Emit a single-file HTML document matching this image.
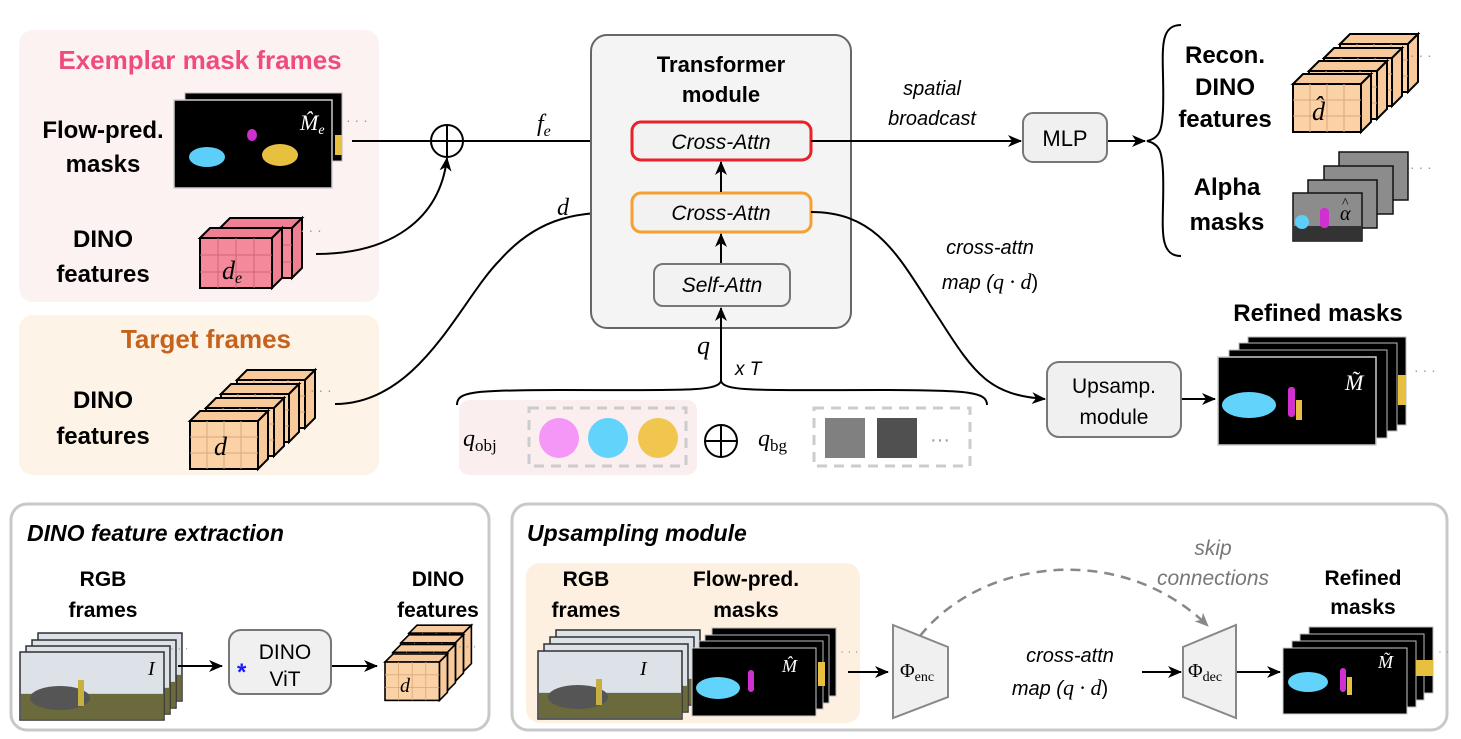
<!DOCTYPE html>
<html><head><meta charset="utf-8"><style>
html,body{margin:0;padding:0;background:#fff;}
svg{display:block;font-family:"Liberation Sans",sans-serif;}
.b{font-weight:bold;}
.m{font-family:"Liberation Serif",serif;font-style:italic;}
</style></head><body>
<svg width="1461" height="739" viewBox="0 0 1461 739" xmlns="http://www.w3.org/2000/svg">
<defs>
<marker id="ar" markerWidth="14" markerHeight="14" refX="13" refY="6" orient="auto" markerUnits="userSpaceOnUse"><path d="M0,0 L14,6 L0,12 L4,6 z" fill="#000"/></marker>
<marker id="ag" markerWidth="14" markerHeight="14" refX="13" refY="6" orient="auto" markerUnits="userSpaceOnUse"><path d="M0,0 L14,6 L0,12 L4,6 z" fill="#888"/></marker>
<g id="cubeO">
  <polygon points="0,0 10,-10 78,-10 68,0" fill="#f8c99a" stroke="#000" stroke-width="2"/>
  <polygon points="68,0 78,-10 78,38 68,48" fill="#f8c99a" stroke="#000" stroke-width="2"/>
  <rect x="0" y="0" width="68" height="48" fill="#fbd2a6" stroke="#000" stroke-width="2"/>
  <path d="M17,0V48M34,0V48M51,0V48M0,16H68M0,32H68" stroke="#d9a77a" stroke-width="1"/>
</g>
<g id="cubeP">
  <polygon points="0,0 10,-10 82,-10 72,0" fill="#f07f94" stroke="#000" stroke-width="2"/>
  <polygon points="72,0 82,-10 82,40 72,50" fill="#f07f94" stroke="#000" stroke-width="2"/>
  <rect x="0" y="0" width="72" height="50" fill="#f3899b" stroke="#000" stroke-width="2"/>
  <path d="M18,0V50M36,0V50M54,0V50M0,17H72M0,34H72" stroke="#c9687a" stroke-width="1"/>
</g>
<g id="photo">
  <rect x="0" y="0" width="144" height="68" fill="#c9cfd6" stroke="#333" stroke-width="1.5"/>
  <rect x="1" y="1" width="142" height="40" fill="#dde2e8"/>
  <rect x="1" y="42" width="142" height="25" fill="#6b6a3c"/>
  <ellipse cx="40" cy="46" rx="30" ry="12" fill="#555"/>
  <rect x="58" y="28" width="6" height="26" fill="#c8b040"/>
</g>
</defs>

<!-- Exemplar panel -->
<rect x="19" y="30" width="360" height="272" rx="14" fill="#fdf2f2"/>
<text x="200" y="69" text-anchor="middle" font-size="26" fill="#ef4b7c" class="b">Exemplar mask frames</text>
<text x="103" y="138" text-anchor="middle" font-size="24" class="b">Flow-pred.</text>
<text x="103" y="172" text-anchor="middle" font-size="24" class="b">masks</text>
<rect x="185" y="93" width="157" height="68" fill="#000" stroke="#bbb" stroke-width="1"/>
<rect x="335" y="135" width="7" height="20" fill="#e8c040"/>
<rect x="174" y="100" width="158" height="88" fill="#000" stroke="#ccc" stroke-width="1.5"/>
<ellipse cx="207" cy="157" rx="18" ry="10" fill="#5ccef8"/>
<ellipse cx="280" cy="155" rx="18" ry="11" fill="#e8c040"/>
<ellipse cx="252" cy="135" rx="5" ry="6" fill="#d030d0"/>
<text x="300" y="130" font-size="22" fill="#fff" class="m">M̂<tspan font-size="14" dy="4">e</tspan></text>
<text x="346" y="125" font-size="14" fill="#999">· · ·</text>
<text x="103" y="247" text-anchor="middle" font-size="24" class="b">DINO</text>
<text x="103" y="282" text-anchor="middle" font-size="24" class="b">features</text>
<use href="#cubeP" x="220" y="228"/>
<use href="#cubeP" x="200" y="238"/>
<text x="222" y="279" font-size="26" class="m">d<tspan font-size="16" dy="4">e</tspan></text>
<text x="300" y="235" font-size="14" fill="#999">· · ·</text>

<!-- Target panel -->
<rect x="19" y="315" width="360" height="160" rx="14" fill="#fdf3e7"/>
<text x="206" y="348" text-anchor="middle" font-size="26" fill="#c5621b" class="b">Target frames</text>
<text x="103" y="408" text-anchor="middle" font-size="24" class="b">DINO</text>
<text x="103" y="444" text-anchor="middle" font-size="24" class="b">features</text>
<use href="#cubeO" x="237" y="380"/>
<use href="#cubeO" x="221" y="394"/>
<use href="#cubeO" x="206" y="408"/>
<use href="#cubeO" x="190" y="421"/>
<text x="214" y="455" font-size="26" class="m">d</text>
<text x="310" y="395" font-size="14" fill="#999">· · ·</text>

<!-- plus & connections -->
<circle cx="447" cy="141" r="16" fill="none" stroke="#000" stroke-width="2"/>
<path d="M431,141H463M447,125V157" stroke="#000" stroke-width="2"/>
<path d="M352,141H431" stroke="#000" stroke-width="2"/>
<path d="M463,141H630" stroke="#000" stroke-width="2" marker-end="url(#ar)"/>
<path d="M316,254 C390,254 440,220 447,158" fill="none" stroke="#000" stroke-width="2" marker-end="url(#ar)"/>
<path d="M335,404 C420,404 460,300 500,260 C540,215 580,212 630,212" fill="none" stroke="#000" stroke-width="2" marker-end="url(#ar)"/>
<text x="537" y="131" font-size="24" class="m">f<tspan font-size="16" dy="5">e</tspan></text>
<text x="557" y="215" font-size="24" class="m">d</text>

<!-- Transformer -->
<rect x="591" y="35" width="260" height="293" rx="16" fill="#f4f4f4" stroke="#666" stroke-width="2"/>
<text x="721" y="72" text-anchor="middle" font-size="22" class="b">Transformer</text>
<text x="721" y="102" text-anchor="middle" font-size="22" class="b">module</text>
<rect x="632" y="122" width="179" height="38" rx="9" fill="#f2f2f2" stroke="#e8222a" stroke-width="3"/>
<text x="721" y="149" text-anchor="middle" font-size="21" font-style="italic">Cross-Attn</text>
<rect x="632" y="193" width="179" height="39" rx="9" fill="#f2f2f2" stroke="#f5a030" stroke-width="3"/>
<text x="721" y="220" text-anchor="middle" font-size="21" font-style="italic">Cross-Attn</text>
<rect x="654" y="264" width="136" height="42" rx="9" fill="#f2f2f2" stroke="#777" stroke-width="2"/>
<text x="722" y="292" text-anchor="middle" font-size="21" font-style="italic">Self-Attn</text>
<path d="M721,192V162" stroke="#000" stroke-width="2" marker-end="url(#ar)"/>
<path d="M721,263V234" stroke="#000" stroke-width="2" marker-end="url(#ar)"/>
<path d="M721,381V308" stroke="#000" stroke-width="2" marker-end="url(#ar)"/>
<text x="697" y="354" font-size="26" class="m">q</text>
<text x="735" y="375" font-size="19" font-style="italic">x T</text>
<path d="M457,405 C457,392 470,390 560,390 C680,390 718,392 721,381 C724,392 760,390 880,390 C970,390 987,392 987,405" fill="none" stroke="#000" stroke-width="2"/>

<!-- q boxes -->
<rect x="459" y="400" width="238" height="75" rx="10" fill="#fbeeee"/>
<text x="463" y="446" font-size="24" class="m">q<tspan font-size="17" font-style="normal" dy="5">obj</tspan></text>
<rect x="529" y="408" width="157" height="58" fill="none" stroke="#ccc" stroke-width="3" stroke-dasharray="10,7"/>
<circle cx="559" cy="438" r="20" fill="#f497f7"/>
<circle cx="608" cy="438" r="20" fill="#62d3fb"/>
<circle cx="658" cy="438" r="20" fill="#f0c64e"/>
<circle cx="721" cy="441" r="16" fill="none" stroke="#000" stroke-width="2"/>
<path d="M705,441H737M721,425V457" stroke="#000" stroke-width="2"/>
<text x="758" y="446" font-size="24" class="m">q<tspan font-size="17" font-style="normal" dy="5">bg</tspan></text>
<rect x="814" y="408" width="156" height="58" fill="none" stroke="#ccc" stroke-width="3" stroke-dasharray="10,7"/>
<rect x="825" y="418" width="40" height="40" fill="#808080"/>
<rect x="877" y="418" width="40" height="40" fill="#505050"/>
<text x="930" y="446" font-size="20" fill="#999">···</text>

<!-- right outputs -->
<path d="M811,141H1021" stroke="#000" stroke-width="2" marker-end="url(#ar)"/>
<text x="932" y="95" text-anchor="middle" font-size="20" font-style="italic">spatial</text>
<text x="932" y="125" text-anchor="middle" font-size="20" font-style="italic">broadcast</text>
<rect x="1023" y="113" width="84" height="49" rx="10" fill="#f0f0f0" stroke="#777" stroke-width="2"/>
<text x="1065" y="146" text-anchor="middle" font-size="22">MLP</text>
<path d="M1108,141H1145" stroke="#000" stroke-width="2" marker-end="url(#ar)"/>
<path d="M1181,25 C1155,25 1165,60 1163,110 C1162,130 1160,138 1147,141 C1160,144 1162,152 1163,172 C1165,220 1155,256 1181,256" fill="none" stroke="#000" stroke-width="2"/>
<text x="1225" y="63" text-anchor="middle" font-size="24" class="b">Recon.</text>
<text x="1225" y="95" text-anchor="middle" font-size="24" class="b">DINO</text>
<text x="1225" y="127" text-anchor="middle" font-size="24" class="b">features</text>
<use href="#cubeO" x="1340" y="44"/>
<use href="#cubeO" x="1324" y="58"/>
<use href="#cubeO" x="1309" y="71"/>
<use href="#cubeO" x="1293" y="84"/>
<text x="1312" y="120" font-size="26" class="m">d̂</text>
<text x="1410" y="60" font-size="14" fill="#999">· · ·</text>
<text x="1227" y="195" text-anchor="middle" font-size="24" class="b">Alpha</text>
<text x="1227" y="230" text-anchor="middle" font-size="24" class="b">masks</text>
<g stroke="#111" stroke-width="1.5">
<rect x="1339" y="152" width="69" height="48" fill="#8c8c8c"/>
<rect x="1324" y="166" width="69" height="48" fill="#8c8c8c"/>
<rect x="1308" y="180" width="69" height="48" fill="#8c8c8c"/>
<rect x="1293" y="193" width="69" height="48" fill="#8c8c8c"/>
</g>
<rect x="1294" y="226" width="67" height="14" fill="#333"/>
<circle cx="1302" cy="222" r="7" fill="#5ccef8"/>
<rect x="1320" y="208" width="9" height="20" rx="4" fill="#d030d0"/>
<text x="1340" y="220" font-size="20" class="m">α</text>
<text x="1342" y="207" font-size="14" font-family="Liberation Serif,serif">^</text>
<text x="1410" y="172" font-size="14" fill="#999">· · ·</text>

<path d="M811,212 C880,212 900,260 940,320 C975,375 990,395 1045,399" fill="none" stroke="#000" stroke-width="2" marker-end="url(#ar)"/>
<text x="990" y="254" text-anchor="middle" font-size="20" font-style="italic">cross-attn</text>
<text x="990" y="289" text-anchor="middle" font-size="20"><tspan font-style="italic">map (</tspan><tspan class="m" font-size="22">q · d</tspan>)</text>
<rect x="1047" y="362" width="134" height="75" rx="12" fill="#f0f0f0" stroke="#777" stroke-width="2"/>
<text x="1114" y="393" text-anchor="middle" font-size="21">Upsamp.</text>
<text x="1114" y="424" text-anchor="middle" font-size="21">module</text>
<path d="M1182,399H1215" stroke="#000" stroke-width="2" marker-end="url(#ar)"/>
<text x="1318" y="321" text-anchor="middle" font-size="24" class="b">Refined masks</text>
<g stroke="#bbb" stroke-width="1">
<rect x="1248" y="337" width="158" height="88" fill="#000"/>
<rect x="1239" y="343" width="158" height="88" fill="#000"/>
<rect x="1229" y="350" width="158" height="88" fill="#000"/>
<rect x="1218" y="357" width="158" height="88" fill="#000" stroke="#ccc" stroke-width="1.5"/>
</g>
<rect x="1398" y="375" width="8" height="30" fill="#e8c040"/>
<ellipse cx="1249" cy="405" rx="27" ry="13" fill="#62d3fb"/>
<rect x="1288" y="387" width="7" height="30" rx="3" fill="#d030d0"/>
<rect x="1296" y="400" width="6" height="20" fill="#e8c040"/>
<text x="1345" y="390" font-size="22" fill="#fff" class="m">M̃</text>
<text x="1414" y="375" font-size="14" fill="#999">· · ·</text>

<!-- Bottom left -->
<rect x="11" y="504" width="478" height="226" rx="16" fill="#fff" stroke="#c8c8c8" stroke-width="3"/>
<text x="27" y="541" font-size="23" font-weight="bold" font-style="italic">DINO feature extraction</text>
<text x="103" y="586" text-anchor="middle" font-size="21" class="b">RGB</text>
<text x="103" y="617" text-anchor="middle" font-size="21" class="b">frames</text>
<use href="#photo" x="38" y="633"/><use href="#photo" x="32" y="640"/><use href="#photo" x="26" y="646"/><use href="#photo" x="20" y="652"/>
<text x="148" y="675" font-size="20" class="m">I</text>
<text x="170" y="652" font-size="12" fill="#999">· · ·</text>
<path d="M178,666H222" stroke="#000" stroke-width="2" marker-end="url(#ar)"/>
<rect x="229" y="630" width="102" height="64" rx="12" fill="#f0f0f0" stroke="#777" stroke-width="2"/>
<text x="237" y="680" font-size="24" fill="#1a1aff" class="b">*</text>
<text x="285" y="659" text-anchor="middle" font-size="21">DINO</text>
<text x="285" y="686" text-anchor="middle" font-size="21">ViT</text>
<path d="M332,666H377" stroke="#000" stroke-width="2" marker-end="url(#ar)"/>
<text x="438" y="586" text-anchor="middle" font-size="21" class="b">DINO</text>
<text x="438" y="617" text-anchor="middle" font-size="21" class="b">features</text>
<g transform="translate(385,662) scale(0.8)"><use href="#cubeO" x="30" y="-36"/><use href="#cubeO" x="20" y="-24"/><use href="#cubeO" x="10" y="-12"/><use href="#cubeO" x="0" y="0"/></g>
<text x="400" y="692" font-size="20" class="m">d</text>
<text x="458" y="650" font-size="12" fill="#999">· · ·</text>

<!-- Bottom right -->
<rect x="512" y="504" width="935" height="226" rx="16" fill="#fff" stroke="#c8c8c8" stroke-width="3"/>
<text x="527" y="541" font-size="23" font-weight="bold" font-style="italic">Upsampling module</text>
<rect x="526" y="563" width="334" height="160" rx="14" fill="#fdf0e0"/>
<text x="586" y="586" text-anchor="middle" font-size="21" class="b">RGB</text>
<text x="586" y="617" text-anchor="middle" font-size="21" class="b">frames</text>
<use href="#photo" x="556" y="630"/><use href="#photo" x="550" y="637"/><use href="#photo" x="544" y="644"/><use href="#photo" x="538" y="651"/>
<text x="640" y="675" font-size="20" class="m">I</text>
<text x="746" y="586" text-anchor="middle" font-size="21" class="b">Flow-pred.</text>
<text x="746" y="617" text-anchor="middle" font-size="21" class="b">masks</text>
<g stroke="#bbb" stroke-width="1">
<rect x="712" y="628" width="124" height="68" fill="#000"/>
<rect x="705" y="635" width="124" height="68" fill="#000"/>
<rect x="699" y="641" width="124" height="68" fill="#000"/>
<rect x="692" y="648" width="124" height="68" fill="#000" stroke="#ccc"/>
</g>
<rect x="818" y="662" width="7" height="24" fill="#e8c040"/>
<ellipse cx="718" cy="688" rx="22" ry="11" fill="#62d3fb"/>
<rect x="748" y="670" width="6" height="22" rx="3" fill="#d030d0"/>
<text x="782" y="672" font-size="18" fill="#fff" class="m">M̂</text>
<text x="840" y="655" font-size="12" fill="#999">· · ·</text>
<path d="M848,672H888" stroke="#000" stroke-width="2" marker-end="url(#ar)"/>
<polygon points="893,625 948,647 948,697 893,718" fill="#f0f0f0" stroke="#888" stroke-width="2"/>
<text x="900" y="677" font-size="20" font-family="Liberation Serif,serif">Φ<tspan font-size="14" dy="4">enc</tspan></text>
<path d="M920,636 C980,560 1120,540 1208,626" fill="none" stroke="#888" stroke-width="2.5" stroke-dasharray="10,7" marker-end="url(#ag)"/>
<text x="1213" y="555" text-anchor="middle" font-size="21" fill="#777" font-style="italic">skip</text>
<text x="1213" y="585" text-anchor="middle" font-size="21" fill="#777" font-style="italic">connections</text>
<text x="1070" y="662" text-anchor="middle" font-size="20" font-style="italic">cross-attn</text>
<text x="1060" y="695" text-anchor="middle" font-size="20"><tspan font-style="italic">map (</tspan><tspan class="m" font-size="22">q · d</tspan>)</text>
<path d="M1142,672H1181" stroke="#000" stroke-width="2" marker-end="url(#ar)"/>
<polygon points="1183,647 1236,625 1236,718 1183,697" fill="#f0f0f0" stroke="#888" stroke-width="2"/>
<text x="1188" y="677" font-size="20" font-family="Liberation Serif,serif">Φ<tspan font-size="14" dy="4">dec</tspan></text>
<path d="M1237,672H1280" stroke="#000" stroke-width="2" marker-end="url(#ar)"/>
<text x="1363" y="585" text-anchor="middle" font-size="21" class="b">Refined</text>
<text x="1363" y="614" text-anchor="middle" font-size="21" class="b">masks</text>
<g stroke="#bbb" stroke-width="1">
<rect x="1309" y="627" width="124" height="66" fill="#000"/>
<rect x="1300" y="634" width="124" height="66" fill="#000"/>
<rect x="1292" y="641" width="124" height="66" fill="#000"/>
<rect x="1283" y="648" width="124" height="66" fill="#000" stroke="#ccc"/>
</g>
<rect x="1416" y="660" width="17" height="16" fill="#e8c040"/>
<ellipse cx="1308" cy="682" rx="20" ry="10" fill="#62d3fb"/>
<rect x="1340" y="668" width="6" height="24" rx="3" fill="#d030d0"/>
<rect x="1347" y="677" width="5" height="18" fill="#e8c040"/>
<text x="1378" y="668" font-size="18" fill="#fff" class="m">M̃</text>
<text x="1438" y="655" font-size="12" fill="#999">· ·</text>
</svg>
</body></html>
